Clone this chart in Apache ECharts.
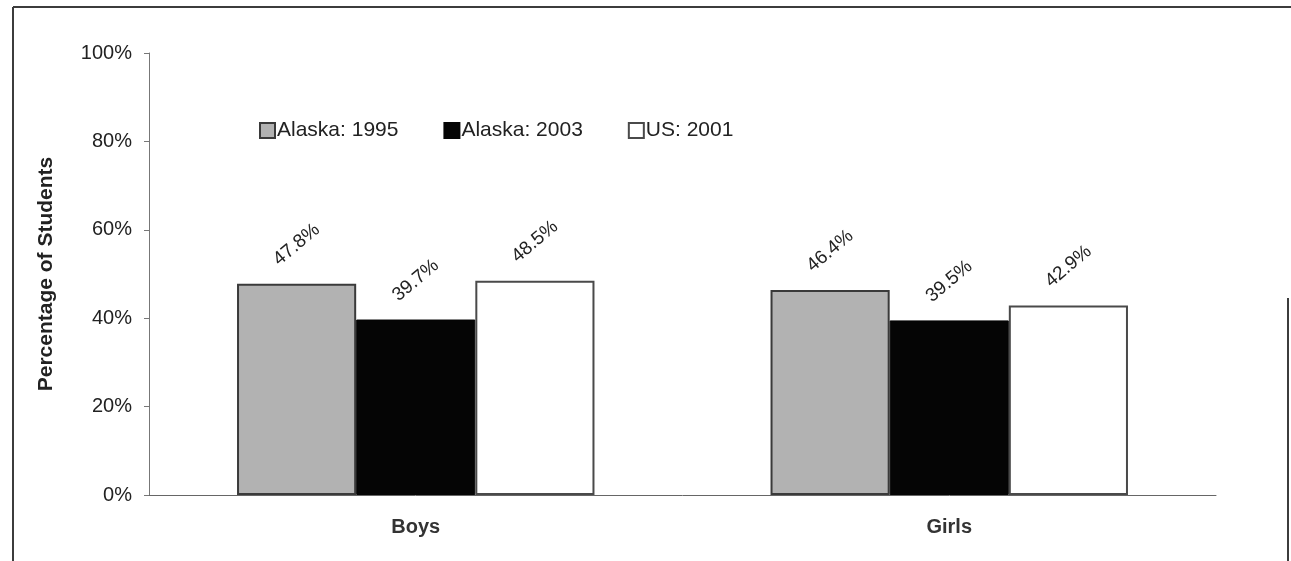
<!DOCTYPE html>
<html><head><meta charset="utf-8">
<script src="https://cdn.jsdelivr.net/npm/echarts@6/dist/echarts.min.js"></script>
<style>html,body{margin:0;padding:0;background:#fff}#c{width:1291px;height:561px}</style>
</head><body><div id="c"></div>
<script>
const categories = ['Boys', 'Girls'];
const seriesNames = ['Alaska: 1995', 'Alaska: 2003', 'US: 2001'];
const alaska1995 = [47.8, 46.4];
const alaska2003 = [39.7, 39.5];
const us2001 = [48.5, 42.9];
const yTicks = [0, 20, 40, 60, 80, 100];

const font = '"Liberation Sans", Arial, sans-serif';
const styles = [
  {color: '#b2b2b2', borderColor: '#3a3a3a', borderWidth: 2},
  {color: '#050505', borderColor: '#050505', borderWidth: 1},
  {color: '#ffffff', borderColor: '#4a4a4a', borderWidth: 2}
];
const dataSets = [alaska1995, alaska2003, us2001];

const chart = echarts.init(document.getElementById('c'));
chart.setOption({
  backgroundColor: '#ffffff',
  animation: false,
  textStyle: {fontFamily: font},
  graphic: [
    {type: 'line', shape: {x1: 13, y1: 7, x2: 1291, y2: 7}, style: {stroke: '#3c3c3c', lineWidth: 2}},
    {type: 'line', shape: {x1: 13, y1: 7, x2: 13, y2: 561}, style: {stroke: '#3c3c3c', lineWidth: 2}},
    {type: 'line', shape: {x1: 1288, y1: 298, x2: 1288, y2: 561}, style: {stroke: '#3c3c3c', lineWidth: 2}}
  ],
  legend: {
    data: seriesNames,
    left: 254, top: 115,
    itemWidth: 15, itemHeight: 15, itemGap: 45,
    icon: 'rect',
    textStyle: {fontSize: 21, color: '#222', fontFamily: font, padding: [0, 0, 0, -3]}
  },
  grid: {left: 149, right: 75, top: 53, bottom: 66},
  xAxis: {
    type: 'category', data: categories,
    axisLine: {lineStyle: {color: '#666', width: 1}},
    axisTick: {show: false},
    axisLabel: {fontSize: 20, fontWeight: 'bold', color: '#333', margin: 22, fontFamily: font}
  },
  yAxis: {
    type: 'value', min: 0, max: 100, interval: 20,
    name: 'Percentage of Students', nameLocation: 'middle', nameGap: 92,
    nameTextStyle: {fontSize: 21, fontWeight: 'bold', color: '#222', fontFamily: font},
    axisLine: {show: true, lineStyle: {color: '#777'}},
    axisTick: {show: true, inside: false, length: 5, lineStyle: {color: '#777'}},
    splitLine: {show: false},
    axisLabel: {fontSize: 20, color: '#222', margin: 17, fontFamily: font,
      formatter: v => yTicks.includes(v) ? v + '%' : ''}
  },
  series: dataSets.map((d, i) => ({
    name: seriesNames[i], type: 'bar', data: d,
    barGap: '0%', barCategoryGap: '33%',
    itemStyle: styles[i],
    label: {
      show: true, position: 'top', distance: 39, rotate: 40,
      align: 'center', verticalAlign: 'middle',
      fontSize: 19, color: '#222', fontFamily: font,
      formatter: p => p.value.toFixed(1) + '%'
    }
  }))
});
</script></body></html>
